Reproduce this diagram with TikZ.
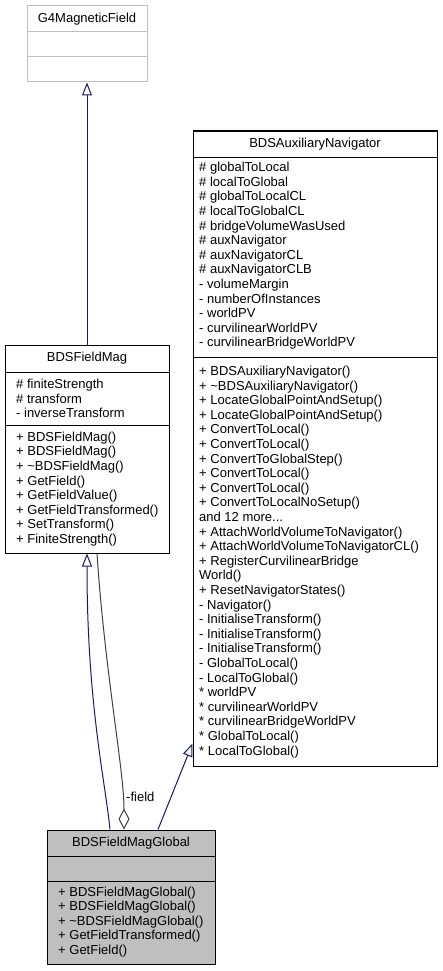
\documentclass[tikz,border=0pt]{standalone}
\usepackage{fontspec}
\setmainfont{Liberation Sans}
\usetikzlibrary{arrows.meta}
\definecolor{navyline}{HTML}{191970}
\definecolor{greyline}{HTML}{404040}
\definecolor{greyfill}{HTML}{BFBFBF}
\definecolor{greyedge}{HTML}{BFBFBF}
\tikzset{
  classbox/.style={draw, line width=1pt, inner sep=0pt},
  txt/.style={inner sep=0pt, align=left, font=\fontsize{13pt}{14.6pt}\selectfont},
  inherit/.style={draw=navyline, line width=1pt, -{Triangle[open, length=13pt, width=10pt]}},
  aggr/.style={draw=greyline, line width=1pt, -{Diamond[open, length=21pt, width=11pt]}}
}
\begin{document}
\begin{tikzpicture}[x=1pt, y=-1pt]
				\useasboundingbox (0,0) rectangle (442,971);
				
				% G4MagneticField
				\node[classbox, draw=greyedge, minimum width=120pt, minimum height=76pt] (g4field) at (87,44) {};
				\draw[greyedge, line width=1pt] (27,32) -- (147,32);
				\draw[greyedge, line width=1pt] (27,57) -- (147,57);
				\node[txt] (g4title) at (87,19) {G4MagneticField};
				
				% BDSFieldMag
				\node[classbox, minimum width=164pt, minimum height=208pt] (fieldmag) at (87,449) {};
				\draw[line width=1pt] (5,372) -- (169,372);
				\draw[line width=1pt] (5,425) -- (169,425);
				\node[txt] (magtitle) at (87,358.5) {BDSFieldMag};
				\node[txt, anchor=west] (magattr) at (16,398.5) {\# finiteStrength\\\# transform\\- inverseTransform};
				\node[txt, anchor=west] (magops) at (16,489) {+ BDSFieldMag()\\+ BDSFieldMag()\\+ \textasciitilde BDSFieldMag()\\+ GetField()\\+ GetFieldValue()\\+ GetFieldTransformed()\\+ SetTransform()\\+ FiniteStrength()};
				
				% BDSAuxiliaryNavigator
				\node[classbox, minimum width=244pt, minimum height=635pt] (nav) at (315,448.5) {};
				\draw[line width=1pt] (193,157) -- (437,157);
				\draw[line width=1pt] (193,357) -- (437,357);
				\node[txt] (navtitle) at (315,144) {BDSAuxiliaryNavigator};
				\node[txt, anchor=west] (navattr) at (199,256) {\# globalToLocal\\\# localToGlobal\\\# globalToLocalCL\\\# localToGlobalCL\\\# bridgeVolumeWasUsed\\\# auxNavigator\\\# auxNavigatorCL\\\# auxNavigatorCLB\\- volumeMargin\\- numberOfInstances\\- worldPV\\- curvilinearWorldPV\\- curvilinearBridgeWorldPV};
				\node[txt, anchor=west] (navops) at (199,562) {+ BDSAuxiliaryNavigator()\\+ \textasciitilde BDSAuxiliaryNavigator()\\+ LocateGlobalPointAndSetup()\\+ LocateGlobalPointAndSetup()\\+ ConvertToLocal()\\+ ConvertToLocal()\\+ ConvertToGlobalStep()\\+ ConvertToLocal()\\+ ConvertToLocal()\\+ ConvertToLocalNoSetup()\\and 12 more...\\+ AttachWorldVolumeToNavigator()\\+ AttachWorldVolumeToNavigatorCL()\\+ RegisterCurvilinearBridge\\World()\\+ ResetNavigatorStates()\\- Navigator()\\- InitialiseTransform()\\- InitialiseTransform()\\- InitialiseTransform()\\- GlobalToLocal()\\- LocalToGlobal()\\* worldPV\\* curvilinearWorldPV\\* curvilinearBridgeWorldPV\\* GlobalToLocal()\\* LocalToGlobal()};
				
				% BDSFieldMagGlobal
				\node[classbox, fill=greyfill, minimum width=168pt, minimum height=134pt] (global) at (131,897) {};
				\draw[line width=1pt] (47,856) -- (215,856);
				\draw[line width=1pt] (47,881) -- (215,881);
				\node[txt] (globtitle) at (131,843) {BDSFieldMagGlobal};
				\node[txt, anchor=west] (globops) at (58,922) {+ BDSFieldMagGlobal()\\+ BDSFieldMagGlobal()\\+ \textasciitilde BDSFieldMagGlobal()\\+ GetFieldTransformed()\\+ GetField()};
				
				% relations
				\draw[inherit] (fieldmag.north) -- (g4field.south);
				\draw[inherit] ([xshift=-21pt]global.north) .. controls +(-5,-50) and +(0,150) .. (fieldmag.south);
				\draw[aggr] ([xshift=10pt]fieldmag.south) .. controls +(8,120) and +(0,-60) .. ([xshift=-7pt]global.north);
				\node[txt, anchor=west] (fieldlbl) at (126,797) {-field};
				\draw[inherit] ([xshift=27pt]global.north) -- ([yshift=23pt]nav.south west);
			\end{tikzpicture}
\end{document}
